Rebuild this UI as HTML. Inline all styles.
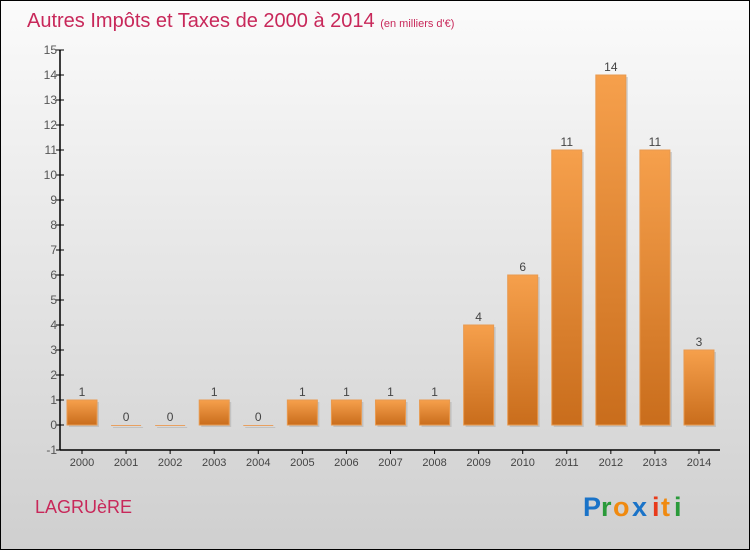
<!DOCTYPE html>
<html><head><meta charset="utf-8"><style>
html,body{margin:0;padding:0}
body{width:750px;height:550px;overflow:hidden}
</style></head><body>
<svg width="750" height="550" viewBox="0 0 750 550" xmlns="http://www.w3.org/2000/svg" font-family="'Liberation Sans', sans-serif">
<defs>
<linearGradient id="bg" x1="0" y1="0" x2="0" y2="1"><stop offset="0" stop-color="#fbfbfb"/><stop offset="1" stop-color="#cfcfcf"/></linearGradient>
<linearGradient id="bar" x1="0" y1="0" x2="0" y2="1"><stop offset="0" stop-color="#f6a04c"/><stop offset="1" stop-color="#c96d1c"/></linearGradient>
</defs>
<rect x="0.5" y="0.5" width="749" height="549" fill="url(#bg)" stroke="#000"/>
<text x="27" y="27" font-size="20" fill="#c8285a">Autres Impôts et Taxes de 2000 à 2014 <tspan font-size="11">(en milliers d'€)</tspan></text>
<g id="axes"></g>
<g id="bars"></g>
<text x="35" y="513" font-size="18" fill="#c8285a">LAGRUèRE</text>
<g font-size="27" font-weight="bold" font-family="'Liberation Sans', sans-serif">
<text x="583" y="516" fill="#1a73c8">P</text><text x="601" y="516" fill="#2a9a3a">r</text><text x="613" y="516" fill="#f08a10">o</text><text x="632" y="516" fill="#1a73c8">x</text><text x="652" y="516" fill="#e83a1a">i</text><text x="661" y="516" fill="#f08a10">t</text><text x="674" y="516" fill="#2a9a3a">i</text>
</g>
</svg>
<script>
const years=["2000","2001","2002","2003","2004","2005","2006","2007","2008","2009","2010","2011","2012","2013","2014"];
const values=[1,0,0,1,0,1,1,1,1,4,6,11,14,11,3];
const yTicks=[-1,0,1,2,3,4,5,6,7,8,9,10,11,12,13,14,15];
const NS="http://www.w3.org/2000/svg";
const y0=425, unit=25, xStart=82, step=44.07, bw=30;
const yS=v=>y0-v*unit;
const xS=i=>xStart+i*step;
function mk(t,a,p){const e=document.createElementNS(NS,t);for(const k in a)e.setAttribute(k,a[k]);p.appendChild(e);return e;}
const ax=document.getElementById('axes'), bg=document.getElementById('bars');
const yl=mk('line',{x1:60,y1:yS(15),x2:60,y2:yS(-1),stroke:'#000','stroke-width':1.5},ax);


const xl=mk('line',{x1:60,y1:yS(-1),x2:720,y2:yS(-1),stroke:'#000','stroke-width':1.5},ax);


yTicks.forEach(v=>{
  mk('line',{x1:56,y1:yS(v),x2:64,y2:yS(v),stroke:'#000'},ax);
  const t=mk('text',{x:57,y:yS(v)+4,'text-anchor':'end','font-size':12,fill:'#555'},ax);
  t.textContent=v;
  
  
});
years.forEach((y,i)=>{
  const x=xS(i);
  mk('line',{x1:x,y1:yS(-1),x2:x,y2:yS(-1)+4,stroke:'#000'},ax);
  const t=mk('text',{x:x,y:466,'text-anchor':'middle','font-size':11,fill:'#444'},ax);
  t.textContent=y;
  
  
  const v=values[i];
  const h=Math.max(v*unit,1);
  mk('rect',{x:x-bw/2+2,y:yS(v)+2,width:bw,height:h,fill:'#aaa',opacity:0.5},bg);
  const r=mk('rect',{x:x-bw/2,y:yS(v),width:bw,height:h,fill:v>0?'url(#bar)':'#e8a060',stroke:v>0?'#e89a50':'none','stroke-width':1},bg);
  
  
  const l=mk('text',{x:x,y:yS(v)-4,'text-anchor':'middle','font-size':12,fill:'#444'},bg);
  l.textContent=v;
  
  
});
</script>
</body></html>
